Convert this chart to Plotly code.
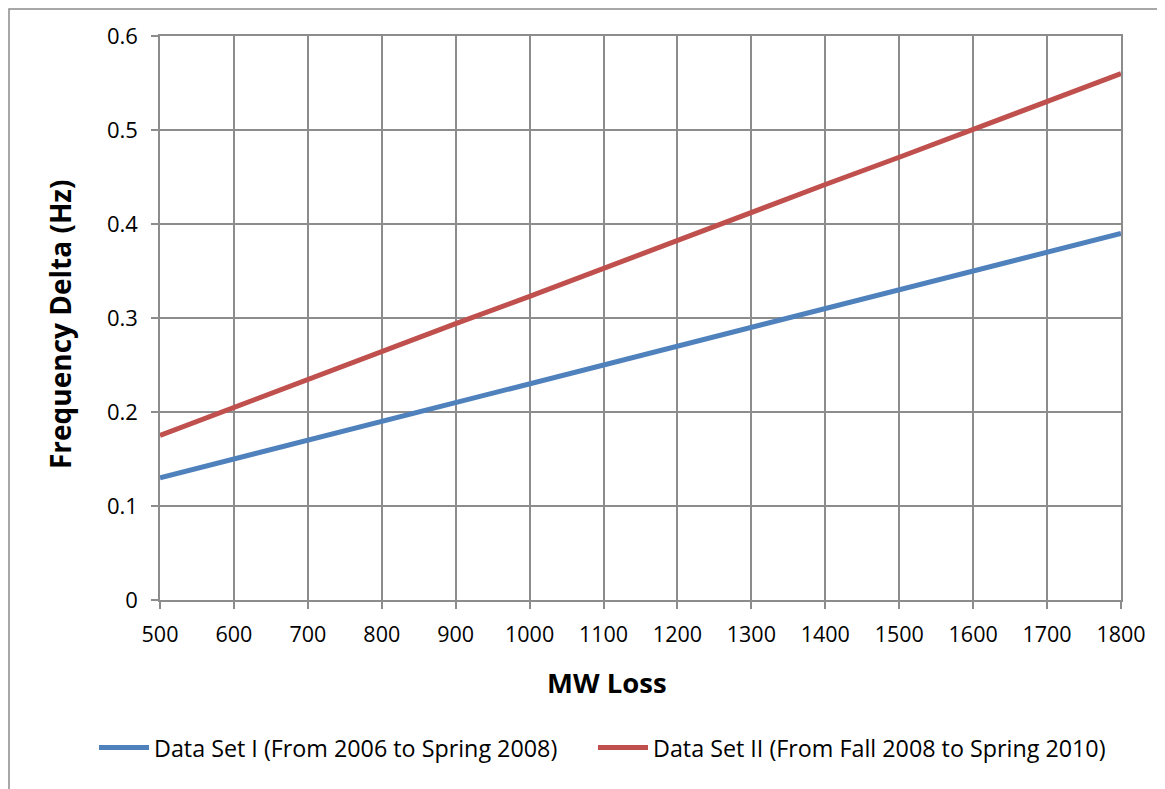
import plotly.graph_objects as go

mw_loss = [500, 600, 700, 800, 900, 1000, 1100, 1200, 1300, 1400, 1500, 1600, 1700, 1800]
set1 = [0.13, 0.15, 0.17, 0.19, 0.21, 0.23, 0.25, 0.27, 0.29, 0.31, 0.33, 0.35, 0.37, 0.39]
set2 = [0.175, 0.205, 0.234, 0.264, 0.294, 0.323, 0.353, 0.382, 0.412, 0.442, 0.471, 0.501, 0.530, 0.560]
name1 = "Data Set I (From 2006 to Spring 2008)"
name2 = "Data Set II (From Fall 2008 to Spring 2010)"
x_title = "MW Loss"
y_title = "Frequency Delta (Hz)"

font_family = "Open Sans, Liberation Sans, sans-serif"
grid = "#8c8c8c"

# page body has an 8px margin, so the figure is shifted; compensate
W, H = 1157, 781
L, T, R = 152, 28, 44
B = H - 592
PW, PH = W - L - R, H - T - B

fig = go.Figure()
fig.add_trace(go.Scatter(x=mw_loss, y=set1, mode="lines", name=name1, legend="legend",
                         line=dict(color="#4F81BD", width=5)))
fig.add_trace(go.Scatter(x=mw_loss, y=set2, mode="lines", name=name2, legend="legend2",
                         line=dict(color="#C0504D", width=5)))

leg_common = dict(orientation="h", y=-0.262, yanchor="middle", xanchor="left",
                  font=dict(size=23.3), itemwidth=50, bgcolor="rgba(0,0,0,0)")

fig.update_layout(
    width=W, height=H,
    margin=dict(l=L, r=R, t=T, b=B, autoexpand=False),
    paper_bgcolor="white", plot_bgcolor="white",
    font=dict(family=font_family, color="black", size=20),
    showlegend=True,
    legend=dict(x=(86 - L) / PW, **leg_common),
    legend2=dict(x=(585 - L) / PW, **leg_common),
    xaxis=dict(range=[500, 1800], tickvals=mw_loss, showgrid=True, gridcolor=grid, gridwidth=1.5,
               showline=True, linecolor=grid, linewidth=1.5, mirror=True,
               ticks="outside", ticklen=7, tickcolor=grid, tickwidth=1.5,
               tickfont=dict(size=21.5), zeroline=False, ticklabelstandoff=7),
    yaxis=dict(range=[0, 0.6], dtick=0.1, tickformat=".1~f", showgrid=True, gridcolor=grid, gridwidth=1.5,
               showline=True, linecolor=grid, linewidth=1.5, mirror=True,
               ticks="outside", ticklen=7, tickcolor=grid, tickwidth=1.5,
               tickfont=dict(size=22), zeroline=False, ticklabelstandoff=9),
)

fig.add_annotation(text="<b>" + x_title + "</b>", xref="paper", yref="paper",
                   x=(599 - L) / PW, y=1 - (674 - T) / PH, xanchor="center", yanchor="middle",
                   showarrow=False, font=dict(size=27.5))
fig.add_annotation(text="<b>" + y_title + "</b>", xref="paper", yref="paper", textangle=-90,
                   x=(52 - L) / PW, y=1 - (316 - T) / PH, xanchor="center", yanchor="middle",
                   showarrow=False, font=dict(size=28))

fig.add_shape(type="rect", xref="paper", yref="paper",
              x0=(1 - L) / PW, x1=1.2, y0=-0.5, y1=1 + (T - 1) / PH,
              line=dict(color="#8c8c8c", width=1.5), fillcolor="rgba(0,0,0,0)", layer="below")

fig.write_html("out.html")
